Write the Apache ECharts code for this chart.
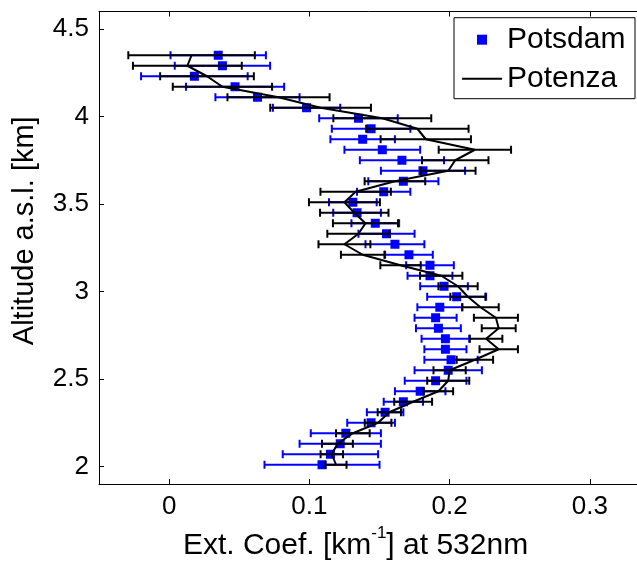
<!DOCTYPE html>
<html>
<head>
<meta charset="utf-8">
<script src="https://cdn.jsdelivr.net/npm/echarts@6/dist/echarts.min.js"></script>
<style>
html,body{margin:0;padding:0;background:#fff;}
#c{width:637px;height:564px;}
</style>
</head>
<body>
<div id="c"></div>
<script>
// Altitude levels (km a.s.l.), bottom to top
const altitudes = [2.01,2.07,2.13,2.19,2.25,2.31,2.37,2.43,2.49,2.55,2.61,2.67,2.73,2.79,2.85,2.91,2.97,3.03,3.09,3.15,
                   3.21,3.27,3.33,3.39,3.45,3.51,3.57,3.63,3.69,3.75,3.81,3.87,3.93,3.99,4.05,4.11,4.17,4.23,4.29,4.35];
// Potsdam extinction coefficient (km^-1) and its error
const potsdamExt = [0.109,0.115,0.122,0.126,0.144,0.154,0.167,0.179,0.190,0.199,0.201,0.197,0.197,0.192,0.190,0.193,0.205,0.196,0.186,0.186,
                    0.171,0.161,0.155,0.147,0.134,0.131,0.153,0.167,0.181,0.166,0.152,0.138,0.144,0.135,0.098,0.063,0.047,0.018,0.038,0.035];
const potsdamErr = [0.041,0.034,0.029,0.025,0.017,0.013,0.014,0.018,0.022,0.024,0.019,0.015,0.017,0.016,0.015,0.016,0.021,0.017,0.016,0.017,
                    0.017,0.021,0.020,0.017,0.017,0.017,0.019,0.025,0.030,0.030,0.027,0.023,0.028,0.028,0.024,0.030,0.035,0.038,0.034,0.034];
// Potenza extinction coefficient (km^-1) and its error
const potenzaExt = [0.119,0.116,0.120,0.131,0.149,0.157,0.174,0.192,0.199,0.200,0.218,0.235,0.226,0.235,0.233,0.222,0.213,0.206,0.194,0.165,
                    0.138,0.125,0.135,0.140,0.132,0.125,0.133,0.161,0.199,0.204,0.218,0.183,0.177,0.152,0.108,0.078,0.038,0.027,0.013,0.016];
const potenzaErr = [0.0075,0.008,0.011,0.012,0.0095,0.0083,0.0135,0.0105,0.015,0.0115,0.013,0.0137,0.0116,0.0121,0.0157,0.013,0.0125,0.014,0.0151,0.0144,
                    0.0155,0.0185,0.0222,0.0232,0.0244,0.0253,0.0251,0.0216,0.0195,0.0237,0.0258,0.0322,0.0365,0.0349,0.0359,0.0364,0.0354,0.0334,0.0388,0.0451];
// Tick labels
const xTicks = [0, 0.1, 0.2, 0.3];
const yTicks = [2, 2.5, 3, 3.5, 4, 4.5];

const FONT = '"Liberation Sans", Arial, Helvetica, sans-serif';
const BLUE = '#0000ff';
const BLACK = '#000000';

const potsdamPts = altitudes.map((a, i) => [potsdamExt[i], a]);
const potenzaPts = altitudes.map((a, i) => [potenzaExt[i], a]);
const potsdamBars = altitudes.map((a, i) => [a, potsdamExt[i] - potsdamErr[i], potsdamExt[i] + potsdamErr[i]]);
const potenzaBars = altitudes.map((a, i) => [a, potenzaExt[i] - potenzaErr[i], potenzaExt[i] + potenzaErr[i]]);

function errorBar(color, capHalf) {
  return function (params, api) {
    const y = api.value(0), lo = api.value(1), hi = api.value(2);
    const a = api.coord([lo, y]);
    const b = api.coord([hi, y]);
    const st = { stroke: color, lineWidth: 2 };
    return {
      type: 'group',
      children: [
        { type: 'line', shape: { x1: a[0], y1: a[1], x2: b[0], y2: b[1] }, style: st },
        { type: 'line', shape: { x1: a[0], y1: a[1] - capHalf, x2: a[0], y2: a[1] + capHalf }, style: st },
        { type: 'line', shape: { x1: b[0], y1: b[1] - capHalf, x2: b[0], y2: b[1] + capHalf }, style: st }
      ]
    };
  };
}

const axisBase = {
  type: 'value',
  axisLine: { show: true, onZero: false, lineStyle: { color: BLACK, width: 1 } },
  splitLine: { show: false }
};

const chart = echarts.init(document.getElementById('c'));
chart.setOption({
  animation: false,
  backgroundColor: '#ffffff',
  grid: { left: 99, top: 11.5, width: 561, height: 472.5, show: false, containLabel: false, outerBoundsMode: 'none' },
  xAxis: [
    Object.assign({}, axisBase, {
      min: -0.05, max: 0.35, position: 'bottom',
      axisTick: { show: true, inside: true, length: 5, customValues: xTicks, lineStyle: { color: BLACK } },
      axisLabel: { customValues: xTicks, color: BLACK, fontSize: 26, fontFamily: FONT, margin: 10,
                   formatter: v => String(+v.toFixed(2)) },
      name: 'Ext. Coef. [km{sup|-1}] at 532nm',
      nameLocation: 'middle', nameGap: 36,
      nameTextStyle: { color: BLACK, fontSize: 30, fontFamily: FONT, lineHeight: 42, padding: [0, 48, 0, 0],
        rich: { sup: { fontSize: 17, fontFamily: FONT, color: BLACK, verticalAlign: 'top', lineHeight: 17 } } }
    }),
    Object.assign({}, axisBase, {
      min: -0.05, max: 0.35, position: 'top',
      axisTick: { show: true, inside: true, length: 5, customValues: xTicks, lineStyle: { color: BLACK } },
      axisLabel: { show: false }
    })
  ],
  yAxis: [
    Object.assign({}, axisBase, {
      min: 1.9, max: 4.6, position: 'left',
      axisTick: { show: true, inside: true, length: 5, customValues: yTicks, lineStyle: { color: BLACK } },
      axisLabel: { customValues: yTicks, color: BLACK, fontSize: 26, fontFamily: FONT, margin: 10,
                   formatter: v => String(+v.toFixed(1)) },
      name: 'Altitude a.s.l. [km]',
      nameLocation: 'middle', nameGap: 60,
      nameTextStyle: { color: BLACK, fontSize: 29, fontFamily: FONT, padding: [0, 0, 0, 34] }
    })
  ],
  legend: {
    orient: 'vertical', left: 454, top: 17.7,
    padding: [7, 3, 5, 8], itemGap: 9, itemWidth: 40, itemHeight: 10,
    borderColor: BLACK, borderWidth: 1, backgroundColor: '#ffffff',
    selectedMode: false,
    textStyle: { fontSize: 30, fontFamily: FONT, color: BLACK, lineHeight: 30, width: 125 },
    data: [
      { name: 'Potsdam', icon: 'path://M0,0H10V10H0Z', itemStyle: { color: BLUE, opacity: 1 } },
      { name: 'Potenza', icon: 'path://M0,0H40V2H0Z', itemStyle: { color: BLACK, opacity: 1 } }
    ]
  },
  series: [
    { name: 'Potsdam error', type: 'custom', renderItem: errorBar(BLUE, 4), data: potsdamBars,
      encode: { x: [1, 2], y: 0 }, z: 1, silent: true },
    { name: 'Potsdam', type: 'scatter', data: potsdamPts, symbol: 'rect', symbolSize: 9,
      itemStyle: { color: BLUE, opacity: 1 }, z: 2 },
    { name: 'Potenza error', type: 'custom', renderItem: errorBar(BLACK, 4), data: potenzaBars,
      encode: { x: [1, 2], y: 0 }, z: 3, silent: true },
    { name: 'Potenza', type: 'line', data: potenzaPts, symbol: 'none', showSymbol: false,
      lineStyle: { color: BLACK, width: 2 }, itemStyle: { color: BLACK }, z: 4 }
  ]
});
</script>
</body>
</html>
